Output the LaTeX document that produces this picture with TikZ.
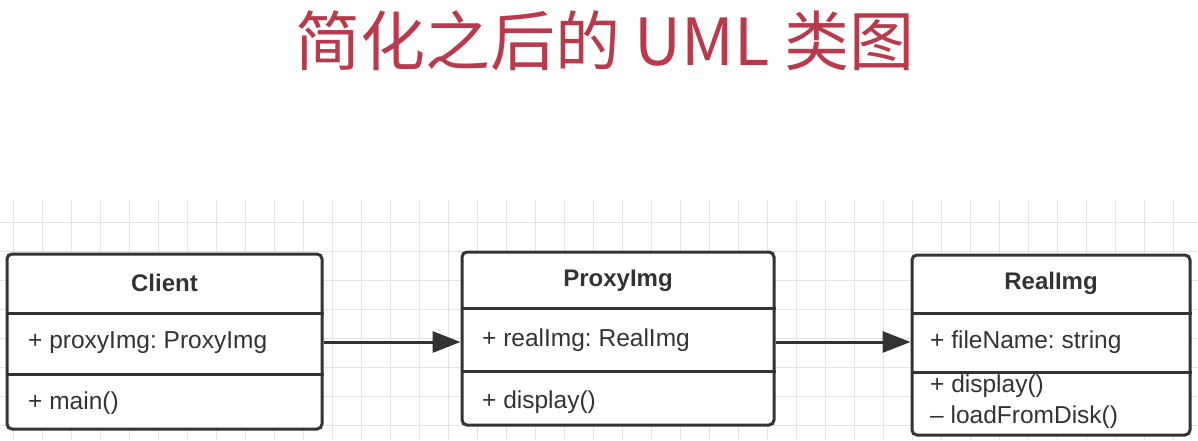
\documentclass[tikz,border=0pt]{standalone}
\usepackage{fontspec}
\setmainfont{Liberation Sans}
\newfontfamily\cjk{Noto Sans CJK SC}
\usetikzlibrary{arrows.meta}
\frenchspacing
\definecolor{ink}{HTML}{333333}
\definecolor{gridc}{HTML}{E4E4E4}
\definecolor{titlered}{HTML}{B83A4B}
\tikzset{
  classbox/.style={draw=ink, line width=3pt, rounded corners=5pt, fill=white, inner sep=0pt},
  divider/.style={draw=ink, line width=3pt},
  cname/.style={font=\fontsize{24}{27}\selectfont\bfseries, text=ink, inner sep=0pt},
  member/.style={font=\fontsize{24.5}{27}\selectfont, text=ink, anchor=west, inner sep=0pt},
  assoc/.style={draw=ink, line width=3pt, -{Triangle[length=28pt,width=21pt]}},
  gridline/.style={draw=gridc, line width=1pt}
}
\begin{document}
\begin{tikzpicture}[x=1pt,y=-1pt]
\path[use as bounding box, fill=white] (0,0) rectangle (1198,440);
% grid
\foreach \gx in {13,42,...,1198} \draw[gridline] (\gx,200) -- (\gx,440);
\foreach \gy in {222,251,...,440} \draw[gridline] (0,\gy) -- (1198,\gy);
% title
\node[font=\cjk\fontsize{65}{70}\selectfont, text=titlered, inner sep=0pt] (title) at (605,41) {简化之后的 UML 类图};
% Client
\node[classbox, minimum width=315pt, minimum height=175pt] (client) at (164.5,341.5) {};
\draw[divider] (client.west |- 0,313) -- (client.east |- 0,313);
\draw[divider] (client.west |- 0,374) -- (client.east |- 0,374);
\node[cname] (clientname) at (164.5,283) {Client};
\node[member] (clientattr) at (28,343) {+ proxyImg: ProxyImg};
\node[member] (clientop) at (28,403) {+ main()};
% ProxyImg
\node[classbox, minimum width=312pt, minimum height=173pt] (proxy) at (618,338.5) {};
\draw[divider] (proxy.west |- 0,308) -- (proxy.east |- 0,308);
\draw[divider] (proxy.west |- 0,371) -- (proxy.east |- 0,371);
\node[cname] (proxyname) at (618,281) {ProxyImg};
\node[member] (proxyattr) at (482,340) {+ realImg: RealImg};
\node[member] (proxyop) at (482,402) {+ display()};
% RealImg
\node[classbox, minimum width=278pt, minimum height=180pt] (real) at (1051,345) {};
\draw[divider] (real.west |- 0,313) -- (real.east |- 0,313);
\draw[divider] (real.west |- 0,372) -- (real.east |- 0,372);
\node[cname] (realname) at (1051,283) {RealImg};
\node[member] (realattr) at (930,342) {+ fileName: string};
\node[member] (realop1) at (930,386) {+ display()};
\node[member] (realop2) at (930,417) {\textendash{} loadFromDisk()};
% connectors
\draw[assoc] (client.east |- 0,342) -- (proxy.west |- 0,342);
\draw[assoc] (proxy.east |- 0,342) -- (real.west |- 0,342);
\end{tikzpicture}
\end{document}
